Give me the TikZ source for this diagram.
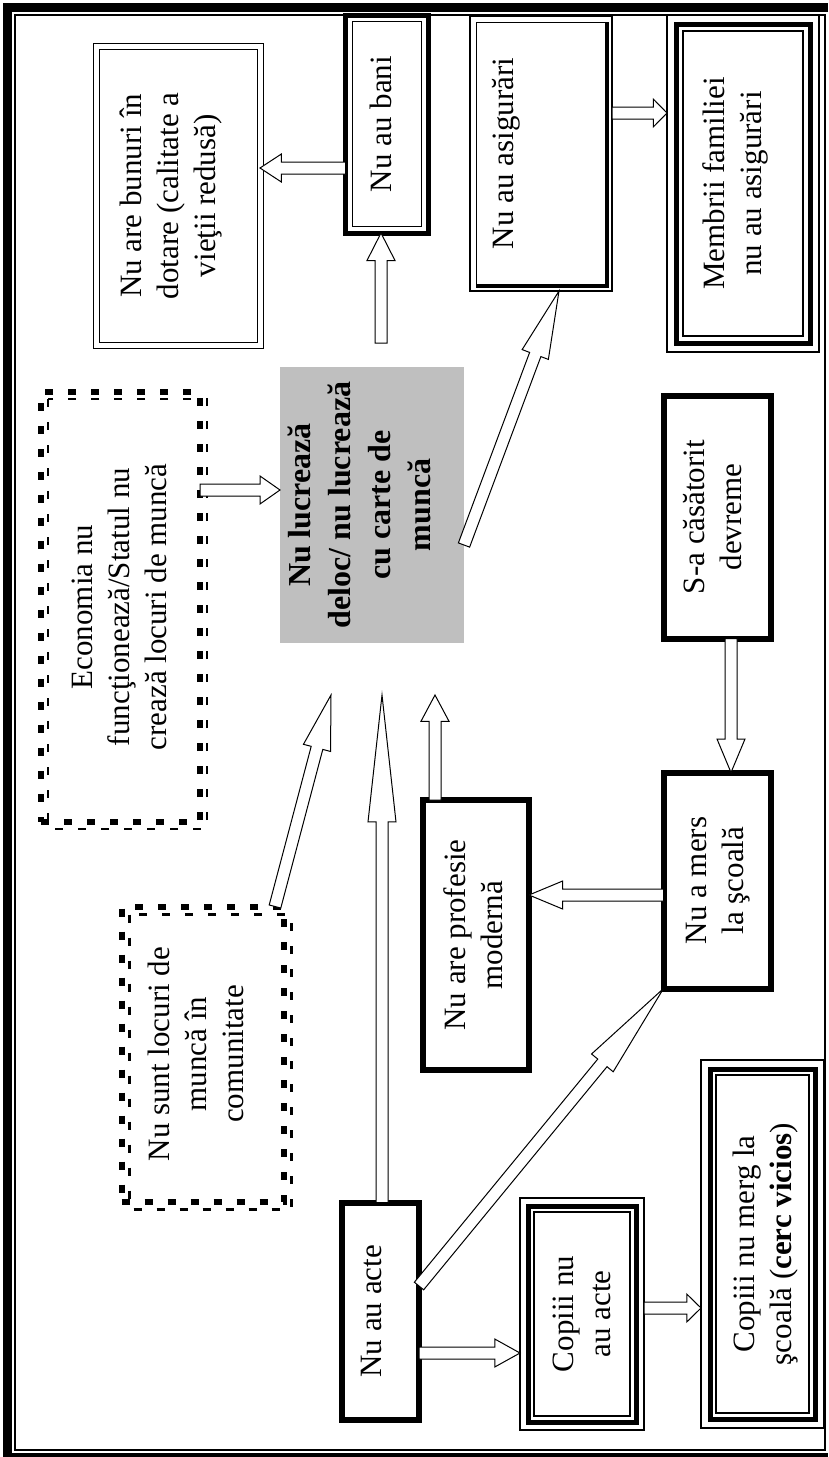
\documentclass[tikz,border=0pt]{standalone}
\usepackage{graphicx}
\usepackage{fontspec}
\setmainfont{Liberation Serif}
\usetikzlibrary{calc}

% text turned upright, placed at the top (left) of a box of given width/height
\newcommand{\rt}[4][22]{\rotatebox{90}{\parbox[c][#2pt][t]{#3pt}{\centering\vspace*{#1pt}#4}}}
% hollow block arrow from #1 to #2
\newcommand{\fatarrow}[2]{%
  \draw[fat] let \p1=(#1), \p2=(#2), \n1={atan2(\y2-\y1,\x2-\x1)} in
    ($(\p1)+(\n1+90:6pt)$) -- ($(\p1)!0.75!(\p2)+(\n1+90:6pt)$) -- ($(\p1)!0.75!(\p2)+(\n1+90:14pt)$)
    -- (\p2) -- ($(\p1)!0.75!(\p2)+(\n1-90:14pt)$) -- ($(\p1)!0.75!(\p2)+(\n1-90:6pt)$)
    -- ($(\p1)+(\n1-90:6pt)$) -- cycle;}
% extra frame inside a box
\newcommand{\inset}[3]{\draw[#3] ([shift={(#2,#2)}]#1.north west) rectangle ([shift={(-#2,-#2)}]#1.south east);}

\tikzset{
  thickbox/.style = {draw, line width=6pt, inner sep=0pt, outer sep=0pt},
  banibox/.style = {draw, line width=5pt, inner sep=0pt, outer sep=0pt},
  dblbox/.style = {draw, double, double distance=5pt, line width=1pt, inner sep=0pt, outer sep=0pt},
  thinbox/.style = {draw, line width=1.2pt, inner sep=0pt, outer sep=0pt},
  dashbox/.style = {draw, line width=6pt, dash pattern=on 8pt off 15pt, inner sep=0pt, outer sep=0pt},
  thindash/.style = {line width=2.5pt, dash pattern=on 8pt off 15pt},
  graybox/.style = {fill=black!25, inner sep=0pt, outer sep=0pt},
  fat/.style = {draw, fill=white, line width=1pt}
}

\begin{document}
\begin{tikzpicture}[x=1pt, y=-1pt]
\tikzstyle{every node} = [font = \fontsize{31}{37}\selectfont]
\useasboundingbox (0,0) rectangle (828,1457);
\draw[line width=9pt] (828,7.5) -- (7.5,7.5) -- (7.5,1457) -- (828,1457);
\draw[line width=1.5pt] (15,15) rectangle (825,1450);

% top row
\node[dblbox, anchor=north west] (bunuri) at (96.5,46.5) {\rt[23]{163.5}{298.5}{Nu are bunuri în\\dotare (calitate a\\vieţii redusă)}};
\node[banibox, anchor=north west] (bani) at (345.5,15) {\rt[24]{82.5}{218}{Nu au bani}};
\inset{bani}{6.5}{line width=1pt}
\node[thinbox, anchor=north west] (asig) at (470,16) {\rt{142}{275}{Nu au asigurări}};
\inset{asig}{6}{line width=1pt}
\draw[line width=3.5pt] ([shift={(-5,6)}]asig.north east) -- ([shift={(-5,-5)}]asig.south east) -- ([shift={(6,-5)}]asig.south west);
\node[thinbox, anchor=north west] (membrii) at (667,15) {\rt[36]{152}{337}{Membrii familiei\\nu au asigurări}};
\inset{membrii}{9}{line width=5pt}
\inset{membrii}{16}{line width=1.2pt}

% middle row
\node[dashbox, anchor=north west] (econ) at (41,392) {\rt[31]{159}{430}{Economia nu\\funcţionează/Statul nu\\crează locuri de muncă}};
\draw[thindash] ([shift={(7,7)}]econ.north west) rectangle ([shift={(7,7)}]econ.south east);
\node[graybox, anchor=north west, font=\fontsize{32}{40}\selectfont\bfseries] (lucru) at (280,367) {\rt[8]{184}{276}{Nu lucrează\\deloc/ nu lucrează\\cu carte de\\muncă}};
\node[thickbox, anchor=north west] (casat) at (663.5,395.5) {\rt[20]{107}{243}{S-a căsătorit\\devreme}};
\coordinate (under) at ($(lucru.south)+(0,52)$);
\coordinate (gap) at ($(lucru.north)+(0,-24)$);

% bottom row
\node[dashbox, anchor=north west] (sunt) at (121.5,906.5) {\rt[26]{162}{295}{Nu sunt locuri de\\muncă în\\comunitate}};
\draw[thindash] ([shift={(8,8)}]sunt.north west) rectangle ([shift={(8,8)}]sunt.south east);
\node[thickbox, anchor=north west] (prof) at (422.5,800) {\rt[21]{106.5}{270}{Nu are profesie\\modernă}};
\node[thickbox, anchor=north west] (mers) at (663.5,772.5) {\rt[23]{107}{216}{Nu a mers\\la şcoală}};
\node[thickbox, anchor=north west] (acte) at (341.5,1202.5) {\rt[20]{77.5}{217.5}{Nu au acte}};
\node[thinbox, anchor=north west] (copact) at (520,1198) {\rt[33]{124}{232}{Copiii nu\\au acte}};
\inset{copact}{8}{line width=5pt}
\inset{copact}{14}{line width=1.2pt}
\node[thinbox, anchor=north west] (copmerg) at (701,1060) {\rt[32]{123}{368}{Copiii nu merg la\\şcoală ({\bfseries cerc vicios})}};
\inset{copmerg}{9}{line width=5pt}
\inset{copmerg}{15}{line width=1.2pt}

% arrows
\fatarrow{bani.west |- 0,168}{bunuri.east |- 0,168}
\fatarrow{gap -| 381,0}{bani.south -| 381,0}
\fatarrow{asig.east |- 0,113}{membrii.west |- 0,113}
\fatarrow{lucru.east |- 0,545}{asig.south -| 559,0}
\fatarrow{econ.east |- 0,490}{lucru.west |- 0,490}
\fatarrow{sunt.north -| 275,0}{under -| 331,0}
\fatarrow{acte.north -| 382,0}{under -| 382,0}
\fatarrow{prof.north -| 435,0}{under -| 435,0}
\fatarrow{casat.south -| 731,0}{mers.north -| 731,0}
\fatarrow{mers.west |- 0,895}{prof.east |- 0,895}
\fatarrow{acte.east |- 0,1286}{mers.south west}
\fatarrow{acte.east |- 0,1353}{copact.west |- 0,1353}
\fatarrow{copact.east |- 0,1308}{copmerg.west |- 0,1308}
\end{tikzpicture}
\end{document}
